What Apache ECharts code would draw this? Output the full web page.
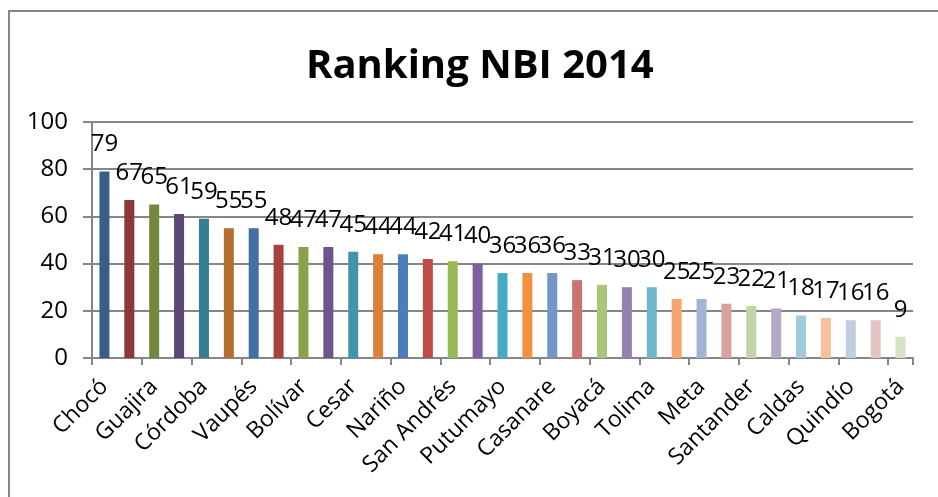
<!DOCTYPE html>
<html>
<head>
<meta charset="utf-8">
<title>Ranking NBI 2014</title>
<script src="https://cdn.jsdelivr.net/npm/echarts@6/dist/echarts.min.js"></script>
<style>
  html, body { margin: 0; padding: 0; background: #fff; }
  #chart { width: 938px; height: 497px; }
</style>
</head>
<body>
<div id="chart"></div>
<script>
// departamentos (solo se rotula uno de cada dos, como en el original)
const departamentos = [
  'Chocó', 'Vichada', 'Guajira', 'Guainía', 'Córdoba', 'Sucre', 'Vaupés',
  'Magdalena', 'Bolívar', 'Cauca', 'Cesar', 'Amazonas', 'Nariño', 'Caquetá',
  'San Andrés', 'Guaviare', 'Putumayo', 'Arauca', 'Casanare', 'Huila',
  'Boyacá', 'Norte de Santander', 'Tolima', 'Atlántico', 'Meta', 'Antioquia',
  'Santander', 'Cundinamarca', 'Caldas', 'Risaralda', 'Quindío',
  'Valle del Cauca', 'Bogotá'
]
// NBI (%)
const nbi = [
  79, 67, 65, 61, 59, 55, 55, 48, 47, 47, 45, 44, 44, 42, 41, 40, 36,
  36, 36, 33, 31, 30, 30, 25, 25, 23, 22, 21, 18, 17, 16, 16, 9
]
// colores variados por punto (estilo Excel)
const colores = [
  '#385D8A', '#8C3836', '#71893F', '#5C4776', '#357D91', '#B66D31',
  '#416FA6', '#A8423F', '#86A44A', '#6E548D', '#3D96AE', '#DA8137',
  '#4A7EBB', '#BE4B48', '#98B954', '#7D60A0', '#46AAC5', '#F0913F',
  '#7396C8', '#CB7371', '#A8C57A', '#9480B1', '#6DB6CC', '#F7A56E',
  '#A1B4D5', '#D8A09F', '#C2D4A5', '#B3A8C6', '#A0CBDC', '#F8BF9C',
  '#C1CDE3', '#E4C3C3', '#D6E2C5'
]

const font = '"Open Sans", "DejaVu Sans", sans-serif'
const chart = echarts.init(document.getElementById('chart'))

const option = {
  animation: false,
  backgroundColor: '#fff',
  title: {
    text: 'Ranking NBI 2014',
    left: 301,
    top: 42,
    textStyle: { fontFamily: font, fontSize: 40, fontWeight: 'bold', color: '#000' }
  },
  graphic: [{
    type: 'rect',
    shape: { x: 9, y: 11, width: 1000, height: 1000 },
    style: { fill: 'none', stroke: '#868686', lineWidth: 2 },
    silent: true
  }],
  grid: {
    left: 92,
    right: 25,
    top: 122,
    bottom: 139
  },
  xAxis: {
    type: 'category',
    data: departamentos,
    axisLine: { lineStyle: { color: '#868686', width: 2 } },
    axisTick: { show: true, length: 7, lineStyle: { color: '#868686', width: 2 } },
    axisLabel: {
      interval: 1,
      rotate: 45,
      margin: 25,
      fontFamily: font,
      fontSize: 23,
      color: '#000'
    }
  },
  yAxis: {
    type: 'value',
    min: 0,
    max: 100,
    interval: 20,
    axisLine: { show: true, lineStyle: { color: '#868686', width: 2 } },
    axisTick: { show: true, length: 9, lineStyle: { color: '#868686', width: 2 } },
    splitLine: { lineStyle: { color: '#868686', width: 2 } },
    axisLabel: {
      margin: 24,
      fontFamily: font,
      fontSize: 24,
      color: '#000'
    }
  },
  series: [{
    type: 'bar',
    barWidth: 10,
    data: nbi.map((v, i) => ({ value: v, itemStyle: { color: colores[i] } })),
    label: {
      show: true,
      position: 'top',
      distance: 15,
      fontFamily: font,
      fontSize: 24,
      color: '#000'
    }
  }]
}

chart.setOption(option)
</script>
</body>
</html>
